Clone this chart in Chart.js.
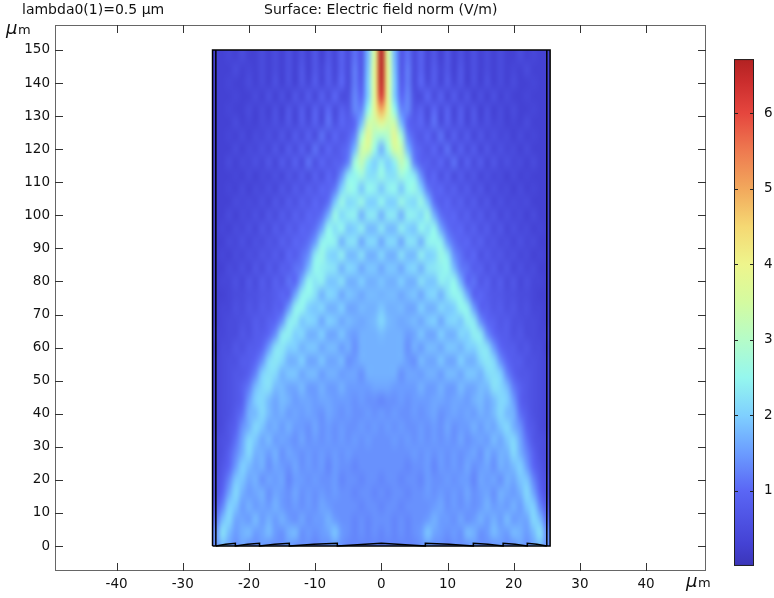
<!DOCTYPE html>
<html>
<head>
<meta charset="utf-8">
<title>Surface: Electric field norm</title>
<script src="https://cdn.jsdelivr.net/npm/chart.js@4"></script>
<style>
  html, body { margin: 0; padding: 0; background: #fff; }
  canvas { display: block; }
</style>
</head>
<body>
<canvas id="fieldChart" width="774" height="598"></canvas>
<script>
const xTicks = [-40, -30, -20, -10, 0, 10, 20, 30, 40];
const yTicks = [0, 10, 20, 30, 40, 50, 60, 70, 80, 90, 100, 110, 120, 130, 140, 150];
const colorbarTicks = [1, 2, 3, 4, 5, 6];
const colorbarRange = [0.007, 6.715];

const xCenters = [-25, -24, -23, -22, -21, -20, -19, -18, -17, -16, -15, -14, -13, -12, -11, -10, -9, -8, -7, -6, -5, -4, -3, -2, -1,
  0, 1, 2, 3, 4, 5, 6, 7, 8, 9, 10, 11, 12, 13, 14, 15, 16, 17, 18, 19, 20, 21, 22, 23, 24, 25];
const yCenters = [148, 144, 140, 136, 132, 128, 124, 120, 116, 112, 108, 104, 100, 96, 92, 88, 84, 80, 76, 72, 68, 64, 60, 56, 52, 48, 44, 40, 36, 32, 28, 24, 20, 16, 12, 8, 4, 0];

// field norm in tenths of V/m, one row per yCenters entry
const fieldTenths = [
  [3,3,4,3,5, 3,3,5,3,5, 3,6,3,6,3, 7,3,7,4,9, 5,11,7,18,36, 66, 36,18,7,11,5, 9,4,7,3,7, 3,6,3,6,3, 5,3,5,3,3, 5,3,4,3,3],
  [3,3,3,5,3, 4,3,5,3,5, 3,6,3,7,3, 7,4,8,4,9, 5,12,7,19,38, 66, 38,19,7,12,5, 9,4,8,4,7, 3,7,3,6,3, 5,3,5,3,4, 3,5,3,3,3],
  [3,3,4,3,3, 5,3,5,3,6, 3,6,3,7,4, 8,4,8,5,10, 5,12,8,20,38, 65, 38,20,8,12,5, 10,5,8,4,8, 4,7,3,6,3, 6,3,5,3,5, 3,3,4,3,3],
  [3,3,3,4,3, 3,5,3,6,3, 6,3,7,4,8, 4,9,5,10,5, 6,13,10,20,38, 62, 38,20,10,13,6, 5,10,5,9,4, 8,4,7,3,6, 3,6,3,5,3, 3,4,3,3,3],
  [3,3,4,3,3, 5,3,5,3,6, 3,7,4,8,4, 9,5,10,5,9, 7,13,13,25,38, 50, 38,25,13,13,7, 9,5,10,5,9, 4,8,4,7,3, 6,3,5,3,5, 3,3,4,3,3],
  [3,3,3,5,3, 4,3,5,4,6, 4,7,4,8,5, 9,5,11,6,10, 8,10,18,33,34, 38, 34,33,18,10,8, 10,6,11,5,9, 5,8,4,7,4, 6,4,5,3,4, 3,5,3,3,3],
  [3,3,4,3,5, 3,5,4,6,4, 7,4,8,5,9, 5,11,6,10,7, 9,13,28,38,30, 28, 30,38,28,13,9, 7,10,6,11,5, 9,5,8,4,7, 4,6,4,5,3, 5,3,4,3,3],
  [3,3,3,5,3, 5,4,6,4,7, 4,8,5,9,5, 11,6,10,7,9, 11,18,33,35,26, 17, 26,35,33,18,11, 9,7,10,6,11, 5,9,5,8,4, 7,4,6,4,5, 3,5,3,3,3],
  [3,3,5,3,5, 4,6,4,7,4, 8,5,9,5,11, 6,10,7,9,9, 13,27,32,24,20, 24, 20,24,32,27,13, 9,9,7,10,6, 11,5,9,5,8, 4,7,4,6,4, 5,3,5,3,3],
  [3,3,3,4,3, 5,3,5,4,6, 4,7,5,8,5, 9,6,10,8,14, 23,25,27,22,22, 26, 22,22,27,25,23, 14,8,10,6,9, 5,8,5,7,4, 6,4,5,3,5, 3,4,3,3,3],
  [3,3,4,3,5, 3,5,4,6,4, 7,5,8,6,9, 7,10,9,12,20, 26,25,19,25,24, 19, 24,25,19,25,26, 20,12,9,10,7, 9,6,8,5,7, 4,6,4,5,3, 5,3,4,3,3],
  [3,3,3,5,4, 5,4,6,4,7, 5,8,6,9,7, 10,8,11,19,26, 21,22,26,20,20, 25, 20,20,26,22,21, 26,19,11,8,10, 7,9,6,8,5, 7,4,6,4,5, 4,5,3,3,3],
  [3,3,5,3,5, 4,6,4,7,5, 8,6,9,7,10, 9,11,17,26,21, 24,24,17,23,23, 17, 23,23,17,24,24, 21,26,17,11,9, 10,7,9,6,8, 5,7,4,6,4, 5,3,5,3,3],
  [3,4,3,5,4, 6,4,7,5,8, 6,9,7,10,9, 11,16,25,22,25, 19,20,24,18,18, 23, 18,18,24,20,19, 25,22,25,16,11, 9,10,7,9,6, 8,5,7,4,6, 4,5,3,4,3],
  [3,3,5,4,6, 4,6,5,7,6, 9,7,10,9,11, 15,24,25,24,17, 22,22,16,21,21, 16, 21,21,16,22,22, 17,24,25,24,15, 11,9,10,7,9, 6,7,5,6,4, 6,4,5,3,3],
  [3,4,3,5,4, 6,5,7,6,8, 6,10,8,11,14, 23,26,21,20,24, 18,18,22,17,17, 21, 17,17,22,18,18, 24,20,21,26,23, 14,11,8,10,6, 8,6,7,5,6, 4,5,3,4,3],
  [3,3,5,4,6, 4,7,5,8,6, 9,8,11,12,18, 25,24,23,22,17, 21,20,16,19,19, 16, 19,19,16,20,21, 17,22,23,24,25, 18,12,11,8,9, 6,8,5,7,4, 6,4,5,3,3],
  [3,4,4,6,4, 7,5,8,6,9, 7,11,10,17,25, 23,24,19,19,22, 17,17,20,17,17, 19, 17,17,20,17,17, 22,19,19,24,23, 25,17,10,11,7, 9,6,8,5,7, 4,6,4,4,3],
  [3,3,4,5,5, 6,6,7,7,8, 10,9,16,24,25, 22,17,21,20,16, 19,18,16,18,18, 17, 18,18,16,18,19, 16,20,21,17,22, 25,24,16,9,10, 8,7,7,6,6, 5,5,4,3,3],
  [3,4,4,6,5, 7,6,8,7,9, 9,15,24,25,20, 19,21,17,17,20, 16,16,18,17,17, 19, 17,17,18,16,16, 20,17,17,21,19, 20,25,24,15,9, 9,7,8,6,7, 5,6,4,4,3],
  [3,4,5,5,6, 6,8,7,9,10, 14,23,24,19,21, 20,16,20,19,16, 18,17,16,17,18, 21, 18,17,16,17,18, 16,19,20,16,20, 21,19,24,23,14, 10,9,7,8,6, 6,5,5,4,3],
  [4,4,5,5,7, 6,8,8,10,14, 23,24,20,21,17, 17,20,16,16,19, 16,15,17,17,17, 18, 17,17,17,15,16, 19,16,16,20,17, 17,21,20,24,23, 14,10,8,8,6, 7,5,5,4,4],
  [3,5,5,7,6, 8,8,10,15,22, 23,20,20,17,19, 19,16,18,18,15, 17,14,17,17,17, 17, 17,17,17,14,17, 15,18,18,16,19, 19,17,20,20,23, 22,15,10,8,8, 6,7,5,5,3],
  [4,5,6,6,8, 8,10,14,21,23, 21,17,17,20,16, 16,19,16,16,18, 14,15,17,17,17, 17, 17,17,17,15,14, 18,16,16,19,16, 16,20,17,17,21, 23,21,14,10,8, 8,6,6,5,4],
  [4,5,6,7,7, 9,13,20,22,21, 17,19,19,16,18, 18,15,17,17,15, 16,16,14,17,17, 17, 17,17,14,16,16, 15,17,17,15,18, 18,16,19,19,17, 21,22,20,13,9, 7,7,6,5,4],
  [4,5,6,7,9, 12,18,21,22,18, 18,16,16,18,15, 15,17,15,15,17, 15,15,15,15,16, 16, 16,15,15,15,15, 17,15,15,17,15, 15,18,16,16,18, 18,22,21,18,12, 9,7,6,5,4],
  [4,5,6,7,9, 15,20,21,18,16, 18,17,15,16,16, 15,16,16,15,15, 15,14,15,14,14, 13, 14,14,15,14,15, 15,15,16,16,15, 16,16,15,17,18, 16,18,21,20,15, 9,7,6,5,4],
  [4,5,6,8,11, 17,18,21,18,16, 17,15,16,15,16, 15,14,16,15,14, 15,14,14,15,14, 15, 14,15,14,14,15, 14,15,16,14,15, 16,15,16,15,17, 16,18,21,18,17, 11,8,6,5,4],
  [4,5,7,9,14, 17,21,19,16,17, 15,17,15,15,14, 16,14,15,14,15, 14,14,15,14,15, 14, 15,14,15,14,14, 15,14,15,14,16, 14,15,15,17,15, 17,16,19,21,17, 14,9,7,5,4],
  [5,6,7,11,16, 21,19,16,18,15, 16,15,14,16,14, 15,14,15,14,15, 14,15,14,15,14, 14, 14,15,14,15,14, 15,14,15,14,15, 14,16,14,15,16, 15,18,16,19,21, 16,11,7,6,5],
  [5,6,9,13,17, 21,17,17,15,17, 14,16,15,14,15, 14,15,14,15,14, 15,14,14,14,14, 14, 14,14,14,14,15, 14,15,14,15,14, 15,14,15,16,14, 17,15,17,17,21, 17,13,9,6,5],
  [5,7,10,15,20, 18,16,17,14,16, 15,14,16,14,15, 14,15,13,15,14, 14,13,14,14,14, 14, 14,14,14,13,14, 14,15,13,15,14, 15,14,16,14,15, 16,14,17,16,18, 20,15,10,7,5],
  [6,8,13,19,19, 16,17,14,16,15, 16,13,15,15,14, 15,14,14,15,13, 14,14,13,14,14, 13, 14,14,13,14,14, 13,15,14,14,15, 14,15,15,13,16, 15,16,14,17,16, 19,19,13,8,6],
  [6,10,16,21,17, 15,16,17,14,16, 15,14,16,14,15, 14,15,14,15,14, 14,13,14,14,13, 14, 13,14,14,13,14, 14,15,14,15,14, 15,14,16,14,15, 16,14,17,16,15, 17,21,16,10,6],
  [8,13,20,19,15, 17,15,16,15,17, 15,14,15,14,15, 14,16,15,14,14, 14,14,13,14,14, 13, 14,14,13,14,14, 14,14,15,16,14, 15,14,15,14,15, 17,15,16,15,17, 15,19,20,13,8],
  [11,18,21,16,16, 15,18,15,17,15, 17,15,14,16,14, 15,15,17,15,14, 14,13,14,13,14, 14, 14,13,14,13,14, 14,15,17,15,15, 14,16,14,15,17, 15,17,15,18,15, 16,16,21,18,11],
  [14,22,18,15,17, 18,15,16,18,15, 14,17,18,14,15, 14,15,16,19,15, 14,13,14,13,14, 13, 14,13,14,13,14, 15,19,16,15,14, 15,14,18,17,14, 15,18,16,15,18, 17,15,18,22,14],
  [14,18,16,14,16, 14,14,15,14,14, 14,15,14,14,14, 13,14,14,15,14, 13,13,13,13,13, 13, 13,13,13,13,13, 14,15,14,14,13, 14,14,14,15,14, 14,14,15,14,14, 16,14,16,18,14]
];

// colour map of the bar: value, rgb
const colorValues = [0, 0.3, 1, 1.5, 2, 2.5, 3, 3.5, 4, 4.5, 5, 5.5, 6, 6.4, 6.72];
const colorStops = ['#3b35b8', '#4442d4', '#5a66f5', '#6b9cff', '#7fd0ff', '#95f7ee', '#b5fcc8', '#d4fba0', '#eef58c', '#f5d873', '#f2a85c', '#ee7a50', '#e5463e', '#cc2e2e', '#b22222'];

// geometry outlines
const outlineX = [-25.5, -25.5, 25.5, 25.5, -25.5];
const outlineY = [0, 150, 150, 0, 0];
const layerLeftX = [-25, -25];
const layerRightX = [25, 25];
const layerY = [0, 150];
const lensX = [-25, -23.5, -22.05, -22.05, -20.2, -18.4, -18.4, -16.1, -13.9, -13.9, -10.2, -6.65, -6.65, 0, 6.65, 6.65, 10.2, 13.9, 13.9, 16.1, 18.4, 18.4, 20.2, 22.05, 22.05, 23.5, 25];
const lensY = [0, 0.5, 0.8, 0, 0.5, 0.8, 0, 0.5, 0.8, 0, 0.5, 0.8, 0, 0.85, 0, 0.8, 0.5, 0, 0.8, 0.5, 0, 0.8, 0.5, 0, 0.8, 0.5, 0];

const fieldPoints = [];
yCenters.forEach((y, r) => {
  xCenters.forEach((x, c) => {
    fieldPoints.push({ x: x, y: y, v: fieldTenths[r][c] / 10 });
  });
});

function toPoints(xs, ys) {
  return xs.map((x, i) => ({ x: x, y: ys[i] }));
}

function hexToRgb(h) {
  return [parseInt(h.slice(1, 3), 16), parseInt(h.slice(3, 5), 16), parseInt(h.slice(5, 7), 16)];
}

function colorFor(v) {
  let i = 0;
  while (i < colorValues.length - 2 && v > colorValues[i + 1]) i++;
  const t = Math.min(1, Math.max(0, (v - colorValues[i]) / (colorValues[i + 1] - colorValues[i])));
  const a = hexToRgb(colorStops[i]);
  const b = hexToRgb(colorStops[i + 1]);
  return [0, 1, 2].map((k) => Math.round(a[k] + (b[k] - a[k]) * t));
}

// paints the field dataset smoothly, using the pixel positions the scales gave its points
const fieldImage = {
  id: 'fieldImage',
  beforeDatasetsDraw(chart) {
    const meta = chart.getDatasetMeta(0);
    const cols = xCenters.length;
    const rows = yCenters.length;
    const off = document.createElement('canvas');
    off.width = cols;
    off.height = rows;
    const octx = off.getContext('2d');
    const img = octx.createImageData(cols, rows);
    fieldPoints.forEach((p, i) => {
      const rgb = colorFor(p.v);
      img.data[i * 4] = rgb[0];
      img.data[i * 4 + 1] = rgb[1];
      img.data[i * 4 + 2] = rgb[2];
      img.data[i * 4 + 3] = 255;
    });
    octx.putImageData(img, 0, 0);

    const first = meta.data[0];
    const cw = meta.data[1].x - first.x;
    const ch = meta.data[cols].y - first.y;
    const sx = chart.scales.x;
    const sy = chart.scales.y;
    const ctx = chart.ctx;
    ctx.save();
    ctx.beginPath();
    ctx.rect(sx.getPixelForValue(-25.5), sy.getPixelForValue(150), sx.getPixelForValue(25.5) - sx.getPixelForValue(-25.5), sy.getPixelForValue(0) - sy.getPixelForValue(150));
    ctx.clip();
    ctx.imageSmoothingEnabled = true;
    ctx.imageSmoothingQuality = 'high';
    ctx.drawImage(off, first.x - cw / 2, first.y - ch / 2, cw * cols, ch * rows);
    ctx.restore();
  }
};

// frame with inward ticks, colour bar and the loose texts
const decorations = {
  id: 'decorations',
  afterDraw(chart) {
    const ctx = chart.ctx;
    const area = chart.chartArea;
    const sx = chart.scales.x;
    const sy = chart.scales.y;
    const cb = chart.scales.cb;
    ctx.save();

    ctx.strokeStyle = '#666';
    ctx.lineWidth = 1;
    ctx.strokeRect(area.left + 0.5, area.top + 0.5, area.right - area.left - 1, area.bottom - area.top - 1);

    ctx.strokeStyle = '#333';
    ctx.beginPath();
    xTicks.forEach((v) => {
      const px = Math.round(sx.getPixelForValue(v)) + 0.5;
      ctx.moveTo(px, area.top);
      ctx.lineTo(px, area.top + 8);
      ctx.moveTo(px, area.bottom);
      ctx.lineTo(px, area.bottom - 8);
    });
    yTicks.forEach((v) => {
      const py = Math.round(sy.getPixelForValue(v)) + 0.5;
      ctx.moveTo(area.left, py);
      ctx.lineTo(area.left + 8, py);
      ctx.moveTo(area.right, py);
      ctx.lineTo(area.right - 8, py);
    });
    ctx.stroke();

    // colour bar
    const barLeft = 734;
    const barWidth = 20;
    const barTop = cb.getPixelForValue(colorbarRange[1]);
    const barBottom = cb.getPixelForValue(colorbarRange[0]);
    const grad = ctx.createLinearGradient(0, barBottom, 0, barTop);
    colorValues.forEach((v, i) => {
      const t = (v - colorbarRange[0]) / (colorbarRange[1] - colorbarRange[0]);
      grad.addColorStop(Math.min(1, Math.max(0, t)), colorStops[i]);
    });
    ctx.fillStyle = grad;
    ctx.fillRect(barLeft, barTop, barWidth, barBottom - barTop);
    ctx.strokeStyle = '#222';
    ctx.strokeRect(barLeft + 0.5, barTop + 0.5, barWidth - 1, barBottom - barTop - 1);
    ctx.beginPath();
    colorbarTicks.forEach((v) => {
      const py = Math.round(cb.getPixelForValue(v)) + 0.5;
      ctx.moveTo(barLeft, py);
      ctx.lineTo(barLeft + 4, py);
      ctx.moveTo(barLeft + barWidth, py);
      ctx.lineTo(barLeft + barWidth - 4, py);
    });
    ctx.stroke();

    // texts
    ctx.fillStyle = '#111';
    ctx.textBaseline = 'alphabetic';
    ctx.textAlign = 'left';
    ctx.font = '14px "DejaVu Sans"';
    ctx.fillText('lambda0(1)=0.5 µm', 22, 14);
    ctx.fillText('Surface: Electric field norm (V/m)', 264, 14);

    ctx.font = 'italic 18px "DejaVu Sans"';
    ctx.fillText('μ', 6, 34);
    ctx.fillText('μ', 686, 587);
    ctx.font = '13px "DejaVu Sans"';
    ctx.fillText('m', 18, 34);
    ctx.fillText('m', 698, 587);
    ctx.restore();
  }
};

const geometryStyle = { type: 'scatter', showLine: true, borderColor: '#000', borderWidth: 1.5, pointRadius: 0, tension: 0, fill: false };

function noPadding(scale) {
  scale.paddingTop = 0;
  scale.paddingBottom = 0;
  scale.paddingLeft = 0;
  scale.paddingRight = 0;
}

new Chart(document.getElementById('fieldChart'), {
  type: 'scatter',
  data: {
    datasets: [
      { label: 'Electric field norm (V/m)', data: fieldPoints, pointRadius: 0, showLine: false },
      { ...geometryStyle, label: 'outline', data: toPoints(outlineX, outlineY) },
      { ...geometryStyle, label: 'layer left', data: toPoints(layerLeftX, layerY) },
      { ...geometryStyle, label: 'layer right', data: toPoints(layerRightX, layerY) },
      { ...geometryStyle, label: 'lens', data: toPoints(lensX, lensY) }
    ]
  },
  options: {
    responsive: false,
    animation: false,
    events: [],
    layout: { padding: { top: 25, left: 0, right: 0, bottom: 0 } },
    plugins: { legend: { display: false }, tooltip: { enabled: false }, title: { display: false } },
    scales: {
      x: {
        type: 'linear',
        min: -49.3,
        max: 49.05,
        grid: { display: false, drawTicks: false },
        border: { display: false },
        afterBuildTicks(scale) { scale.ticks = xTicks.map((v) => ({ value: v })); },
        afterFit(scale) { scale.height = 27; noPadding(scale); },
        ticks: { padding: 5, maxRotation: 0, autoSkip: false, color: '#111', font: { family: 'DejaVu Sans', size: 13.5 }, callback: (v) => String(v) }
      },
      y: {
        type: 'linear',
        min: -7.56,
        max: 157.56,
        grid: { display: false, drawTicks: false },
        border: { display: false },
        afterBuildTicks(scale) { scale.ticks = yTicks.map((v) => ({ value: v })); },
        afterFit(scale) { scale.width = 55; noPadding(scale); },
        ticks: { padding: 5, autoSkip: false, color: '#111', font: { family: 'DejaVu Sans', size: 13.5 }, callback: (v) => String(v) }
      },
      cb: {
        type: 'linear',
        position: 'right',
        min: -0.06,
        max: 7.166,
        grid: { display: false, drawTicks: false },
        border: { display: false },
        afterBuildTicks(scale) { scale.ticks = colorbarTicks.map((v) => ({ value: v })); },
        afterFit(scale) { scale.width = 68; noPadding(scale); },
        ticks: { padding: 58, autoSkip: false, color: '#111', font: { family: 'DejaVu Sans', size: 13.5 }, callback: (v) => String(v) }
      }
    }
  },
  plugins: [fieldImage, decorations]
});
</script>
</body>
</html>
